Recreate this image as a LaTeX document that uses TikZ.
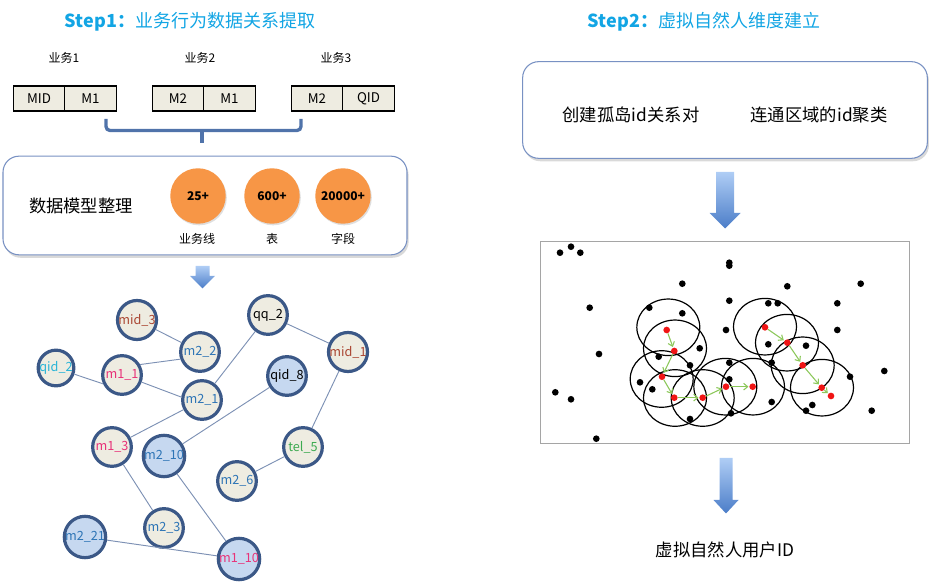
\documentclass[tikz,border=0pt]{standalone}
\usepackage{fontspec}
\setmainfont{Noto Sans CJK SC}
\usetikzlibrary{shadows,arrows.meta}
\definecolor{titleblue}{RGB}{18,165,228}
\definecolor{nodeborder}{RGB}{59,88,135}
\definecolor{beige}{RGB}{238,236,225}
\definecolor{lightblue}{RGB}{198,216,240}
\definecolor{edgec}{RGB}{125,145,180}
\definecolor{bracketc}{RGB}{80,115,170}
\definecolor{boxborder}{RGB}{120,145,195}
\definecolor{orangec}{RGB}{247,150,70}
\definecolor{txtblue}{RGB}{46,117,182}
\definecolor{txtpink}{RGB}{232,50,120}
\definecolor{txtbrown}{RGB}{170,70,50}
\definecolor{txtcyan}{RGB}{40,180,215}
\definecolor{txtgreen}{RGB}{60,170,80}
\definecolor{arrowtop}{RGB}{175,205,245}
\definecolor{arrowbot}{RGB}{75,125,200}
\definecolor{greenarr}{RGB}{140,200,90}
\definecolor{dotred}{RGB}{240,20,20}
\definecolor{framegray}{RGB}{165,165,165}
\tikzset{
  titletext/.style={font=\fontsize{13.5}{15}\selectfont, text=titleblue, inner sep=0pt},
  smalltext/.style={font=\fontsize{9}{11}\selectfont, inner sep=0pt},
  bigtext/.style={font=\fontsize{13}{15}\selectfont, inner sep=0pt},
  cell/.style={draw=black, fill=beige, line width=0.8pt, minimum width=38.6pt, minimum height=18.75pt, inner sep=0pt, font=\fontsize{10}{12}\selectfont},
  roundbox/.style={draw=boxborder, line width=0.8pt, fill=white, rounded corners=12pt, drop shadow={shadow xshift=1.2pt, shadow yshift=-2.2pt, opacity=0.3}},
  orangedisc/.style={circle, fill=orangec, minimum size=41.6pt, inner sep=0pt, font=\fontsize{9}{10}\selectfont\bfseries, drop shadow={shadow xshift=0.8pt, shadow yshift=-1.2pt, opacity=0.25}},
  gnode/.style={circle, draw=nodeborder, line width=2.4pt, fill=beige, minimum size=29pt, inner sep=0pt, font=\fontsize{9.5}{12}\selectfont},
  bnode/.style={gnode, fill=lightblue},
  gedge/.style={draw=edgec, line width=0.7pt},
  bracket/.style={draw=bracketc, line width=2.5pt},
  reddot/.style={circle, fill=dotred, minimum size=5pt, inner sep=0pt},
  garrow/.style={draw=greenarr, line width=0.8pt, -{Straight Barb[length=3pt,width=5pt]}, shorten >=0.5pt},
  cluster/.style={draw=black, line width=0.9pt},
  blockarrow/.style={top color=arrowtop, bottom color=arrowbot}
}
\begin{document}
\begin{tikzpicture}[x=0.75pt, y=-0.75pt]
\useasboundingbox (0,0) rectangle (951,584);
% ---------- Titles ----------
\node[titletext] (t1) at (190,22) {\textbf{Step1：}业务行为数据关系提取};
\node[titletext] (t2) at (704,22) {\textbf{Step2：}虚拟自然人维度建立};
% ---------- business tables ----------
\node[smalltext] (b1) at (64,58) {业务1};
\node[smalltext] (b2) at (200,58) {业务2};
\node[smalltext] (b3) at (336,58) {业务3};
\node[cell] (c11) at (39,98.5) {MID};
\node[cell] (c12) at (90.5,98.5) {M1};
\node[cell] (c21) at (178,98.5) {M2};
\node[cell] (c22) at (229.5,98.5) {M1};
\node[cell] (c31) at (317,98.5) {M2};
\node[cell] (c32) at (368.5,98.5) {QID};
% bracket
\coordinate (brL) at (106,119);
\coordinate (brR) at (301,119);
\coordinate (brM) at (202,130.5);
\coordinate (brT) at (202,143);
\draw[bracket, rounded corners=3pt] (brL) -- (106,130.5) -- (301,130.5) -- (brR);
\draw[bracket] (brM) -- (brT);
% ---------- data model box ----------
\node[roundbox, minimum width=303pt, minimum height=74pt] (box1) at (205,205.5) {};
\node[bigtext] (dm) at (81,206) {数据模型整理};
\node[orangedisc] (o1) at (198,196) {25+};
\node[orangedisc] (o2) at (272,196) {600+};
\node[orangedisc] (o3) at (343,196) {20000+};
\node[smalltext] (l1) at (197,239) {业务线};
\node[smalltext] (l2) at (272,239) {表};
\node[smalltext] (l3) at (343,239) {字段};
% small arrow
\shade[blockarrow] (195.5,266) -- (209.5,266) -- (209.5,276) -- (215,276) -- (202.5,288.5) -- (190,276) -- (195.5,276) -- cycle;
% ---------- graph ----------
\node[gnode, minimum size=28pt, text=txtbrown] (mid3) at (137,320) {mid\_3};
\node[gnode, text=txtblue] (m22) at (200,352) {m2\_2};
\node[gnode, minimum size=26pt, text=txtcyan] (qid2) at (56,368) {qid\_2};
\node[gnode, text=txtpink] (m11) at (122,375) {m1\_1};
\node[gnode, text=txtblue] (m21) at (202,400) {m2\_1};
\node[gnode, text=black] (qq2) at (268,315) {qq\_2};
\node[gnode, text=txtbrown] (mid1) at (348,352) {mid\_1};
\node[bnode, text=black] (qid8) at (287,376) {qid\_8};
\node[gnode, text=txtpink] (m13) at (112,447) {m1\_3};
\node[bnode, text=txtblue] (m210) at (164,456) {m2\_10};
\node[gnode, text=txtgreen] (tel5) at (303,447) {tel\_5};
\node[gnode, text=txtblue] (m26) at (237,481) {m2\_6};
\node[gnode, text=txtblue] (m23) at (164,528) {m2\_3};
\node[bnode, text=txtblue] (m221) at (85,537) {m2\_21};
\node[bnode, text=txtpink] (m110) at (239,559) {m1\_10};
\draw[gedge] (mid3) -- (m22);
\draw[gedge] (m11.30) -- (m22.200);
\draw[gedge] (qid2) -- (m11.205);
\draw[gedge] (m11.-20) -- (m21.172);
\draw[gedge] (m21) -- (qq2);
\draw[gedge] (qq2) -- (mid1);
\draw[gedge] (mid1) -- (tel5);
\draw[gedge] (m21) -- (m13);
\draw[gedge] (qid8) -- (m210);
\draw[gedge] (tel5) -- (m26);
\draw[gedge] (m13) -- (m23);
\draw[gedge] (m210) -- (m110);
\draw[gedge] (m221) -- (m110);
% ---------- Step2 box ----------
\node[roundbox, minimum width=303.5pt, minimum height=72.5pt] (box2) at (725,110) {};
\node[bigtext] (s1) at (631,115) {创建孤岛id关系对};
\node[bigtext] (s2) at (819,115) {连通区域的id聚类};
\shade[blockarrow] (716,172) -- (734,172) -- (734,213) -- (740.5,213) -- (725,228.5) -- (709.5,213) -- (716,213) -- cycle;
% ---------- scatter panel ----------
\node[draw=framegray, line width=0.8pt, fill=white, minimum width=277pt, minimum height=151.5pt, inner sep=0pt] (panel) at (724.7,342.5) {};
\foreach \cx/\cy in {668.3/327.3, 675/348.3, 661.7/379, 675/398, 702.7/398, 725.3/386.7, 753/386.7, 765/326.7, 787/342.7, 802.7/365.3, 822/387.7}
  \draw[cluster] (\cx,\cy) ellipse [x radius=23.6pt, y radius=21.2pt];
\foreach \px/\py in {560/252.7, 571/246.7, 580.3/252.7, 729.3/262.7, 729.3/265.7, 682.3/283.7, 787.3/286.3, 860.7/283.7, 589.7/307.7, 729.3/300.7, 649.3/307.7, 682.3/313.3, 768.3/303.3, 777.7/303.3, 837.3/303.3, 837.3/330, 726/330, 699.7/348.3, 599/354, 768.3/344.3, 806/345.7, 658.7/356.7, 690/365.3, 771.7/362.7, 729.3/362.7, 850/376.7, 884.3/371, 640/382.3, 652.3/389.3, 729.3/379.3, 555.3/392.3, 571/399.3, 771.7/402, 812.3/405, 806/410.7, 871.7/410.7, 731/413.3, 690/419, 596.3/438.7}
  \fill[black] (\px,\py) circle (2.5pt);
\node[reddot] (r1) at (666.7,330) {};
\node[reddot] (r2) at (674.3,351) {};
\node[reddot] (r3) at (662,376.7) {};
\node[reddot] (r4) at (674.3,397.7) {};
\node[reddot] (r5) at (702.7,397.7) {};
\node[reddot] (r6) at (726,386.7) {};
\node[reddot] (r7) at (752.7,386.7) {};
\node[reddot] (r8) at (765,327.3) {};
\node[reddot] (r9) at (787.3,342.7) {};
\node[reddot] (r10) at (802.7,365.3) {};
\node[reddot] (r11) at (821.7,387.7) {};
\node[reddot] (r12) at (831,396) {};
\draw[garrow] (r1) -- (r2);
\draw[garrow] (r2) -- (r3);
\draw[garrow] (r3) -- (r4);
\draw[garrow] (r4) -- (r5);
\draw[garrow] (r5) -- (r6);
\draw[garrow] (r6) -- (r7);
\draw[garrow] (r8) -- (r9);
\draw[garrow] (r9) -- (r10);
\draw[garrow] (r10) -- (r11);
\draw[garrow] (r11) -- (r12);
% bottom arrow and result
\shade[blockarrow] (719.5,458) -- (732.5,458) -- (732.5,500) -- (738.5,500) -- (726,513.5) -- (713.5,500) -- (719.5,500) -- cycle;
\node[bigtext] (res) at (725,550) {虚拟自然人用户ID};
\end{tikzpicture}
\end{document}
